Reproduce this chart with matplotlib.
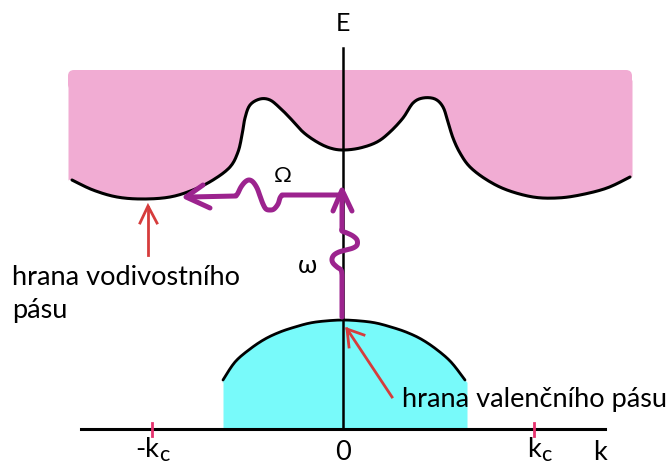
import numpy as np
import matplotlib
matplotlib.use("Agg")
import matplotlib.pyplot as plt
from matplotlib.patches import FancyBboxPatch

# everything in pixel units (x right, y down)
# conduction band lower edge
cond_x = [68, 72, 93, 117, 143, 170, 193, 213, 230, 238, 242, 245, 250, 260, 270, 280, 290,
          303, 317, 330, 343, 360, 377, 390, 403, 413, 423, 435, 443, 448, 453, 460, 470,
          487, 507, 533, 557, 580, 607, 630, 632]
cond_y = [180, 180, 190, 197, 199, 197, 190, 180, 167, 152, 135, 118, 105, 99, 100, 108, 118,
          132, 142, 148, 150, 148, 142, 132, 118, 103, 98, 99, 107, 122, 138, 153, 167,
          180, 190, 197, 198, 195, 188, 177, 177]
band_top = 70

# valence band upper edge
val_x = [223, 223, 235, 250, 265, 280, 295, 310, 325, 343, 361, 376, 391, 406, 421, 436, 451, 465, 467]
val_y = [382, 380, 362, 349, 339, 332, 327, 323, 321, 320, 321, 323, 327, 332, 339, 349, 362, 380, 382]
k_axis_y = 429

# photon paths (purple): straight part, wiggle, straight part
omega_x = [342, 342, 341, 337, 333, 332, 334, 339, 346, 353, 357, 357, 353, 347, 342, 342, 342]
omega_y = [317, 275, 270, 267, 263, 259, 255, 252, 250, 248, 245, 240, 236, 233, 231, 228, 194]
Omega_x = [343, 282, 280, 278, 274, 270, 266, 263, 260, 257, 253, 249, 245, 241, 238, 236, 190]
Omega_y = [195, 195, 198, 204, 209, 210, 209, 204, 196, 188, 182, 180, 182, 187, 193, 196, 197]

k_ticks = [152, 534]
k_main = ["-k", "k"]

PINK = "#f1acd3"
CYAN = "#78fafa"
PURPLE = "#9c238e"
RED = "#d63c3c"
TICK = "#e6326e"


def smooth(xs, ys, n=10):
    # catmull-rom through the read points, just for drawing
    p = np.column_stack([xs, ys]).astype(float)
    p = np.vstack([p[0], p, p[-1]])
    out = []
    for i in range(1, len(p) - 2):
        p0, p1, p2, p3 = p[i - 1], p[i], p[i + 1], p[i + 2]
        t = np.linspace(0, 1, n, endpoint=False)[:, None]
        out.append(0.5 * ((2 * p1) + (-p0 + p2) * t + (2 * p0 - 5 * p1 + 4 * p2 - p3) * t ** 2
                          + (-p0 + 3 * p1 - 3 * p2 + p3) * t ** 3))
    out.append(p[-2][None, :])
    out = np.vstack(out)
    return out[:, 0], out[:, 1]


def photon(xs, ys):
    wx, wy = smooth(xs[1:-1], ys[1:-1], 8)
    px = np.concatenate([[xs[0]], wx, [xs[-1]]])
    py = np.concatenate([[ys[0]], wy, [ys[-1]]])
    ax.plot(px, py, color=PURPLE, lw=3.6, solid_capstyle="round", solid_joinstyle="round")


fig = plt.figure(figsize=(6.71, 4.66), dpi=100)
ax = fig.add_axes([0, 0, 1, 1])
ax.set_xlim(0, 671)
ax.set_ylim(466, 0)
ax.axis("off")

# conduction band (rounded top corners)
ax.add_patch(FancyBboxPatch((cond_x[0], band_top), cond_x[-1] - cond_x[0], 20,
                            boxstyle="round,pad=0,rounding_size=6", fc=PINK, ec="none"))
cx, cy = smooth(cond_x, cond_y)
ax.fill_between(cx, band_top + 10, cy, color=PINK, lw=0)
cx2, cy2 = smooth(cond_x[1:-1], cond_y[1:-1])
ax.plot(cx2, cy2, color="black", lw=2.2, solid_capstyle="round")

# valence band
vx, vy = smooth(val_x, val_y)
ax.fill_between(vx, k_axis_y, vy, color=CYAN, lw=0)
vx2, vy2 = smooth(val_x[1:-1], val_y[1:-1])
ax.plot(vx2, vy2, color="black", lw=2.0, solid_capstyle="round")

# axes
ax.plot([343, 343], [48, k_axis_y], color="black", lw=1.8)
ax.plot([81, 605], [k_axis_y, k_axis_y], color="black", lw=2.2)
for xt in k_ticks:
    ax.plot([xt, xt], [423, 436], color=TICK, lw=2.0)

# photons
photon(omega_x, omega_y)
ax.plot([333, 342, 352], [211, 190, 211], color=PURPLE, lw=3.6,
        solid_capstyle="round", solid_joinstyle="round")
photon(Omega_x, Omega_y)
ax.plot([203, 186, 210], [185, 197, 208], color=PURPLE, lw=3.6,
        solid_capstyle="round", solid_joinstyle="round")

# red pointers
ax.plot([148, 148], [255, 207], color=RED, lw=2.0)
ax.plot([140, 148, 157], [223, 206, 223], color=RED, lw=2.0, solid_joinstyle="miter")
ax.plot([392, 347], [397, 329], color=RED, lw=2.0)
ax.plot([349, 347, 364], [347, 329, 335], color=RED, lw=2.0, solid_joinstyle="miter")

font = "Lato"
fs = 19.5
ax.text(343, 31, "E", fontsize=18, family=font, ha="center", va="baseline")
ax.text(283, 182, "Ω", fontsize=16, family=font, ha="center", va="baseline")
ax.text(307, 273, "ω", fontsize=18, family=font, ha="center", va="baseline")
ax.text(12, 285, "hrana vodivostního", fontsize=fs, family=font, ha="left", va="baseline")
ax.text(12, 318, "pásu", fontsize=fs, family=font, ha="left", va="baseline")
ax.text(402, 407, "hrana valenčního pásu", fontsize=fs, family=font, ha="left", va="baseline")
ax.text(343, 460, "0", fontsize=fs, family=font, ha="center", va="baseline")
ax.text(600, 460, "k", fontsize=fs, family=font, ha="center", va="baseline")
for xt, lab in zip(k_ticks, k_main):
    ax.text(xt + 7, 457, lab, fontsize=fs, family=font, ha="right", va="baseline")
    ax.text(xt + 7, 465, "c", fontsize=fs * 0.8, family=font, ha="left", va="bottom")

fig.savefig("out.png", dpi=100)
